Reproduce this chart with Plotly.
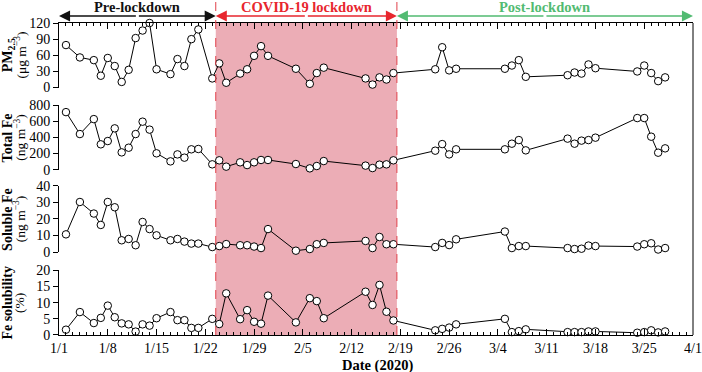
import plotly.graph_objects as go

dates = ["2020-01-02", "2020-01-04", "2020-01-06", "2020-01-07", "2020-01-08", "2020-01-09",
         "2020-01-10", "2020-01-11", "2020-01-12", "2020-01-13", "2020-01-14", "2020-01-15",
         "2020-01-17", "2020-01-18", "2020-01-19", "2020-01-20", "2020-01-21", "2020-01-23",
         "2020-01-24", "2020-01-25", "2020-01-27", "2020-01-28", "2020-01-29", "2020-01-30",
         "2020-01-31", "2020-02-04", "2020-02-06", "2020-02-07", "2020-02-08", "2020-02-14",
         "2020-02-15", "2020-02-16", "2020-02-17", "2020-02-18", "2020-02-24", "2020-02-25",
         "2020-02-26", "2020-02-27", "2020-03-05", "2020-03-06", "2020-03-07", "2020-03-08",
         "2020-03-14", "2020-03-15", "2020-03-16", "2020-03-17", "2020-03-18", "2020-03-24",
         "2020-03-25", "2020-03-26", "2020-03-27", "2020-03-28"]

pm25 = [79, 56, 51, 22, 55, 40, 10.5, 33, 92, 106, 120, 34,
        25, 53, 40, 90, 108, 17,
        45, 9, 26, 34, 59, 77, 59, 35, 7, 27, 37,
        17, 5.6, 19, 15, 27,
        34, 75, 32, 35, 35, 41, 51, 20,
        23, 28, 26, 43, 36, 30, 41, 27, 12, 19]

total_fe = [716, 443, 629, 315, 356, 514, 215, 273, 443, 597, 498, 203,
            103, 190, 149, 253, 257, 66,
            116, 37, 91, 57, 91, 120, 120, 70, 16, 45, 107,
            50, 20, 62, 66, 116,
            236, 318, 190, 253, 253, 323, 368, 240,
            386, 323, 361, 368, 398, 642, 642, 410, 211, 265]

soluble_fe = [10.7, 30.3, 23.3, 16.4, 30.3, 27.1, 7.1, 7.9, 4.1, 18.2, 13.9, 10.1,
              7.1, 7.9, 6.3, 5.1, 5.1, 3.0,
              3.6, 4.8, 4.1, 4.1, 3.3, 2.4, 13.9, 0.8, 1.8, 4.7, 5.5,
              6.7, 2.4, 9.1, 4.7, 4.7,
              3.0, 5.5, 4.2, 7.7, 12.4, 2.4, 3.6, 3.6,
              2.4, 1.8, 2.0, 3.9, 3.6, 3.3, 4.7, 5.3, 1.5, 2.4]

fe_solubility = [1.65, 7.1, 3.7, 5.3, 9.1, 5.5, 3.6, 3.3, 1.05, 3.3, 2.9, 5.2,
                 7.1, 4.6, 4.6, 2.2, 2.2, 5.0,
                 3.4, 12.9, 4.9, 7.7, 4.1, 3.5, 12.2, 3.9, 11.4, 10.5, 5.2,
                 13.4, 9.3, 15.5, 7.2, 4.5,
                 1.45, 1.9, 2.3, 3.3, 5.0, 0.9, 1.2, 1.75,
                 0.9, 0.9, 0.9, 1.1, 1.1, 0.7, 0.9, 1.45, 0.8, 1.1]

panel_titles = ["PM<sub>2.5</sub>", "Total Fe", "Soluble Fe", "Fe solubility"]
panel_units = ["(μg m<sup>−3</sup>)", "(ng m<sup>−3</sup>)", "(ng m<sup>−3</sup>)", "(%)"]
panel_ranges = [[0, 120], [0, 800], [0, 40], [0, 20]]
panel_dticks = [30, 200, 10, 5]
panel_series = [pm25, total_fe, soluble_fe, fe_solubility]

x_range = ["2020-01-01", "2020-04-01"]
lockdown_start = "2020-01-23 12:00"
lockdown_end = "2020-02-18 12:00"
period_names = ["Pre-lockdown", "COVID-19 lockdown", "Post-lockdown"]
period_bounds = [("2020-01-01", lockdown_start), (lockdown_start, lockdown_end), (lockdown_end, "2020-04-01")]
period_mids = ["2020-01-12 06:00", "2020-02-05 12:00", "2020-03-10 18:00"]
period_colors = ["#111111", "#E8262E", "#52BB72"]

FONT = "Liberation Serif"
domains = [[0.793, 1.0], [0.530, 0.736], [0.266, 0.4776], [0.0, 0.207]]

fig = go.Figure()
axis_ids = ["y", "y2", "y3", "y4"]
for i, series in enumerate(panel_series):
    fig.add_trace(go.Scatter(
        x=dates, y=series, xaxis="x", yaxis=axis_ids[i], mode="lines+markers",
        line=dict(color="black", width=1),
        marker=dict(symbol="circle", size=7.5, color="white", line=dict(color="black", width=1)),
        cliponaxis=False, showlegend=False))

# helper trace for the top (mirrored) axis
fig.add_trace(go.Scatter(x=[None], y=[None], xaxis="x2", yaxis="y", showlegend=False, hoverinfo="skip"))

tickfont = dict(family=FONT, size=14, color="black")
xcommon = dict(type="date", range=x_range, showgrid=False, zeroline=False, showline=True,
               linecolor="black", linewidth=1, ticks="inside", ticklen=6, tickcolor="black",
               tick0="2020-01-01", dtick=7 * 86400000, tickformat="%-m/%-d",
               minor=dict(dtick=86400000, ticks="inside", ticklen=3, tickcolor="black"),
               tickfont=tickfont, automargin=False)

layout = dict(
    width=702, height=372,
    margin=dict(l=59, r=9, t=22.7, b=37.3),
    paper_bgcolor="white", plot_bgcolor="rgba(0,0,0,0)",
    font=dict(family=FONT, color="black"),
    xaxis=dict(domain=[0, 1], anchor="y4", **xcommon),
    xaxis2=dict(overlaying="x", anchor="y", side="top", showticklabels=False, **xcommon),
)
for i, aid in enumerate(axis_ids):
    key = "yaxis" if i == 0 else f"yaxis{i+1}"
    layout[key] = dict(domain=domains[i], anchor="x", range=panel_ranges[i], dtick=panel_dticks[i],
                       tick0=0, showgrid=False, zeroline=False, showline=True, linecolor="black",
                       linewidth=1, ticks="outside", ticklen=5, tickcolor="black", tickfont=tickfont,
                       automargin=False)
fig.update_layout(**layout)

# lockdown shading and boundaries
fig.add_shape(type="rect", xref="x", yref="paper", x0=lockdown_start, x1=lockdown_end, y0=0, y1=1,
              fillcolor="#ECADB6", line=dict(width=0), layer="below")
for xv in [lockdown_start, lockdown_end]:
    fig.add_shape(type="line", xref="x", yref="paper", x0=xv, x1=xv, y0=0, y1=1.073,
                  line=dict(color="#E0404A", width=1, dash="dash"))
# right border
fig.add_shape(type="line", xref="paper", yref="paper", x0=1, x1=1, y0=0, y1=1,
              line=dict(color="black", width=1))

# period arrows and labels
for name, (a, b), mid, col in zip(period_names, period_bounds, period_mids, period_colors):
    for end in (a, b):
        fig.add_annotation(xref="x", yref="paper", x=end, y=1.0224, axref="x", ayref="pixel",
                           ax=mid, ay=0, text="", showarrow=True, arrowhead=2, arrowsize=1.7,
                           arrowwidth=1.3, arrowcolor=col, standoff=0, startstandoff=0)
    fig.add_annotation(xref="x", yref="paper", x=mid, y=1.052, text=f"<b>{name}</b>", showarrow=False,
                       font=dict(family=FONT, size=14.5, color=col), xanchor="center", yanchor="middle")

# y-axis titles
for i in range(4):
    yc = (domains[i][0] + domains[i][1]) / 2
    fig.add_annotation(xref="paper", yref="paper", x=-0.0806, y=yc, text=f"<b>{panel_titles[i]}</b>",
                       textangle=-90, showarrow=False, font=dict(family=FONT, size=14, color="black"),
                       xanchor="center", yanchor="middle")
    fig.add_annotation(xref="paper", yref="paper", x=-0.0612, y=yc, text=panel_units[i],
                       textangle=-90, showarrow=False, font=dict(family=FONT, size=13.5, color="black"),
                       xanchor="center", yanchor="middle")

fig.add_annotation(xref="paper", yref="paper", x=0.502, y=-0.097, text="<b>Date (2020)</b>",
                   showarrow=False, font=dict(family=FONT, size=14.5, color="black"),
                   xanchor="center", yanchor="middle")

fig.write_html("out.html", config={"displayModeBar": False},
               post_script="document.body.style.margin='0px';")
